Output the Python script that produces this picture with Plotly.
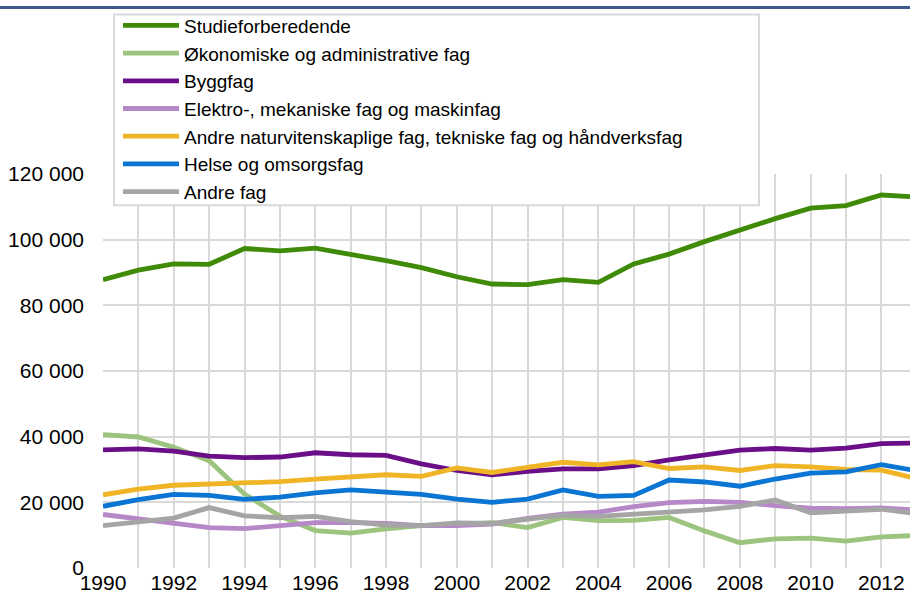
import plotly.graph_objects as go

years = list(range(1990, 2014))

series_names = [
    "Studieforberedende",
    "Økonomiske og administrative fag",
    "Byggfag",
    "Elektro-, mekaniske fag og maskinfag",
    "Andre naturvitenskaplige fag, tekniske fag og håndverksfag",
    "Helse og omsorgsfag",
    "Andre fag",
]

studieforberedende = [87800, 90700, 92600, 92500, 97300, 96600, 97400, 95600, 93600, 91500,
                      88700, 86500, 86300, 87800, 87000, 92600, 95600, 99400, 103000, 106400,
                      109600, 110400, 113600, 113000]
okonomiske = [40600, 39900, 36800, 32700, 22500, 15800, 11400, 10600, 11900, 12900,
              13300, 13800, 12300, 15400, 14400, 14500, 15400, 11300, 7700, 8900,
              9100, 8200, 9500, 9900]
byggfag = [36000, 36300, 35600, 34100, 33600, 33800, 35100, 34500, 34300, 31700,
           29700, 28400, 29400, 30200, 30200, 31200, 32900, 34400, 35900, 36400,
           35900, 36500, 37900, 38100]
elektro = [16300, 15000, 13800, 12300, 12000, 13000, 13800, 13800, 13600, 12900,
           12900, 13400, 15100, 16400, 17000, 18700, 19900, 20300, 20000, 19000,
           18200, 18100, 18300, 17600]
andre_natur = [22300, 24000, 25200, 25600, 26000, 26300, 27100, 27600, 28400, 27900,
               30500, 29100, 30700, 32200, 31400, 32400, 30300, 30800, 29700, 31200,
               30800, 30000, 29800, 27200]
helse = [18800, 20800, 22400, 22100, 20900, 21600, 22900, 23800, 23100, 22400,
         21000, 20000, 21000, 23800, 21800, 22100, 26800, 26200, 24900, 27100,
         28900, 29300, 31500, 29600]
andre_fag = [12900, 14100, 15200, 18400, 15900, 15300, 15700, 14100, 13100, 12900,
             13700, 13600, 14900, 16100, 15700, 16400, 17200, 17700, 18800, 20700,
             16800, 17300, 17900, 16500]

values = [studieforberedende, okonomiske, byggfag, elektro, andre_natur, helse, andre_fag]
colors = ["#3f8a06", "#9cc47f", "#6b0f88", "#b688c8", "#efb526", "#0b75d3", "#a5a5a5"]

x_ticks = list(range(1990, 2014, 2))
y_ticks = [0, 20000, 40000, 60000, 80000, 100000, 120000]

fig = go.Figure()
for name, vals, col in zip(series_names, values, colors):
    fig.add_trace(go.Scatter(x=years, y=vals, name=name, mode="lines",
                             line=dict(color=col, width=4.8)))

W, H = 910, 595
L, R, T, B = 103, 0, 173.6, 27
pw = W - L - R
ph = H - T - B


def px_x(p):
    return (p - L) / pw


def px_y(p):
    return (H - B - p) / ph


fig.update_layout(
    width=W, height=H,
    margin=dict(l=L, r=R, t=T, b=B, pad=0, autoexpand=False),
    paper_bgcolor="white", plot_bgcolor="white",
    separators=", ",
    font=dict(family="Liberation Sans, Arial, sans-serif", size=21, color="#000000"),
    showlegend=True,
    legend=dict(
        x=px_x(118), y=px_y(6), xanchor="left", yanchor="top",
        bgcolor="rgba(0,0,0,0)", borderwidth=0,
        font=dict(size=19, color="#000000"),
        itemwidth=56, tracegroupgap=0,
    ),
    xaxis=dict(
        range=[1990, 1990 + (W - L) / 35.38],
        tickvals=x_ticks, ticktext=[str(v) for v in x_ticks],
        tickangle=0,
        showgrid=True, gridcolor="#d9d9d9", gridwidth=1.5,
        minor=dict(dtick=1, tick0=1990, showgrid=True, gridcolor="#d9d9d9", gridwidth=1.5),
        zeroline=False, showline=False, ticks="",
        tickfont=dict(size=21),
    ),
    yaxis=dict(
        range=[0, 120000],
        tickvals=y_ticks, tickformat=",d",
        showgrid=True, gridcolor="#d9d9d9", gridwidth=1.5,
        zeroline=False, showline=False, ticks="",
        ticklabelstandoff=18,
        tickfont=dict(size=21),
    ),
    shapes=[
        dict(type="line", xref="paper", yref="paper",
             x0=px_x(0), x1=1, y0=px_y(7), y1=px_y(7),
             line=dict(color="#3d5a8c", width=3)),
        dict(type="rect", xref="paper", yref="paper", layer="above",
             x0=px_x(114), x1=px_x(759), y0=px_y(205), y1=px_y(14),
             fillcolor="white", line=dict(color="#d9d9d9", width=2)),
    ],
)

fig.write_html("out.html", config={"displayModeBar": False},
               post_script="document.body.style.margin='0';")
